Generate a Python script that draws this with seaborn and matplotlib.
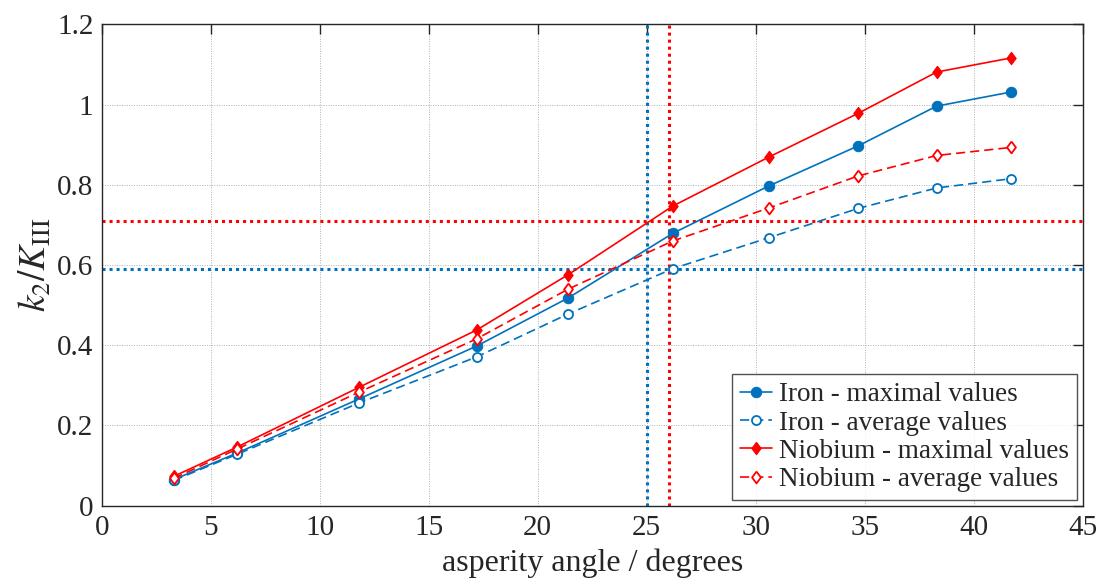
import numpy as np
import pandas as pd
import matplotlib
matplotlib.use("Agg")
import matplotlib.pyplot as plt
import seaborn as sns

sns.set_theme(style="white")
plt.rcParams['font.family'] = ['Liberation Serif', 'DejaVu Serif']
plt.rcParams['mathtext.fontset'] = 'stix'

# data
angle = [3.3, 6.2, 11.8, 17.2, 21.4, 26.2, 30.6, 34.7, 38.3, 41.7]
iron_max = [0.065, 0.131, 0.266, 0.398, 0.518, 0.679, 0.797, 0.897, 0.996, 1.031]
iron_avg = [0.063, 0.128, 0.256, 0.371, 0.478, 0.591, 0.668, 0.741, 0.792, 0.815]
nb_max = [0.073, 0.146, 0.295, 0.438, 0.576, 0.747, 0.869, 0.978, 1.081, 1.116]
nb_avg = [0.068, 0.141, 0.283, 0.416, 0.540, 0.660, 0.742, 0.822, 0.873, 0.893]

ref_y_nb, ref_y_fe = 0.710, 0.590
ref_x_fe, ref_x_nb = 25, 26

blue = "#0072BD"
red = "#FF0000"
# matlab-like diamond, a bit taller than wide
diamond = [(0, 1), (0.75, 0), (0, -1), (-0.75, 0), (0, 1)]

df = pd.DataFrame({"angle": angle, "iron_max": iron_max, "iron_avg": iron_avg,
                   "nb_max": nb_max, "nb_avg": nb_avg})

fig = plt.figure(figsize=(11.01, 5.81), dpi=100)
ax = fig.add_axes([0.0924, 0.1296, 0.891, 0.8286])

#reference lines
dots = (0, (1, 1.3))
ax.axhline(ref_y_nb, color=red, ls=dots, lw=2.2, zorder=1)
ax.axhline(ref_y_fe, color=blue, ls=dots, lw=2.2, zorder=1)
ax.axvline(ref_x_fe, color=blue, ls=dots, lw=2.2, zorder=1)
ax.axvline(ref_x_nb, color=red, ls=dots, lw=2.2, zorder=1)

dash = (0, (5.5, 3))
sns.lineplot(x="angle", y="iron_max", data=df, ax=ax, color=blue, lw=1.2,
             marker="o", markersize=7.5, markeredgecolor=blue,
             label="Iron - maximal values")
sns.lineplot(x="angle", y="iron_avg", data=df, ax=ax, color=blue, lw=1.2,
             linestyle=dash, marker="o", markersize=6.5,
             markerfacecolor="white", markeredgecolor=blue, markeredgewidth=1.3,
             label="Iron - average values")
sns.lineplot(x="angle", y="nb_max", data=df, ax=ax, color=red, lw=1.2,
             marker=diamond, markersize=9, markeredgecolor=red,
             label="Niobium - maximal values")
sns.lineplot(x="angle", y="nb_avg", data=df, ax=ax, color=red, lw=1.2,
             linestyle=dash, marker=diamond, markersize=8.5,
             markerfacecolor="white", markeredgecolor=red, markeredgewidth=1.3,
             label="Niobium - average values")

ax.set_xlim(0, 45)
ax.set_ylim(0, 1.2)
ax.set_xticks(np.arange(0, 46, 5))
ax.set_yticks(np.arange(0, 1.21, 0.2))
ax.set_yticklabels(["0", "0.2", "0.4", "0.6", "0.8", "1", "1.2"])
ax.grid(True, color="#b0b0b0", ls=(0, (1, 1.5)), lw=0.7)
ax.tick_params(direction="in", length=7, width=1, top=True, right=True,
               labelsize=21, colors="#262626")
ax.tick_params(axis="x", pad=7)
ax.tick_params(axis="y", pad=6)
for s in ax.spines.values():
    s.set_color("#262626")
    s.set_linewidth(1)

ax.set_xlabel("asperity angle / degrees", fontsize=23, color="#262626", labelpad=5)
ax.set_ylabel(r"$k_2/K_{\mathrm{III}}$", fontsize=27, color="#262626", labelpad=2)

leg = ax.legend(loc="lower right", fontsize=19.5, frameon=True, fancybox=False,
                edgecolor="#262626", handlelength=1.2, handletextpad=0.25,
                borderpad=0.3, labelspacing=0.12, borderaxespad=0.2)
leg.get_frame().set_linewidth(1)

fig.savefig("out.png", dpi=100)
